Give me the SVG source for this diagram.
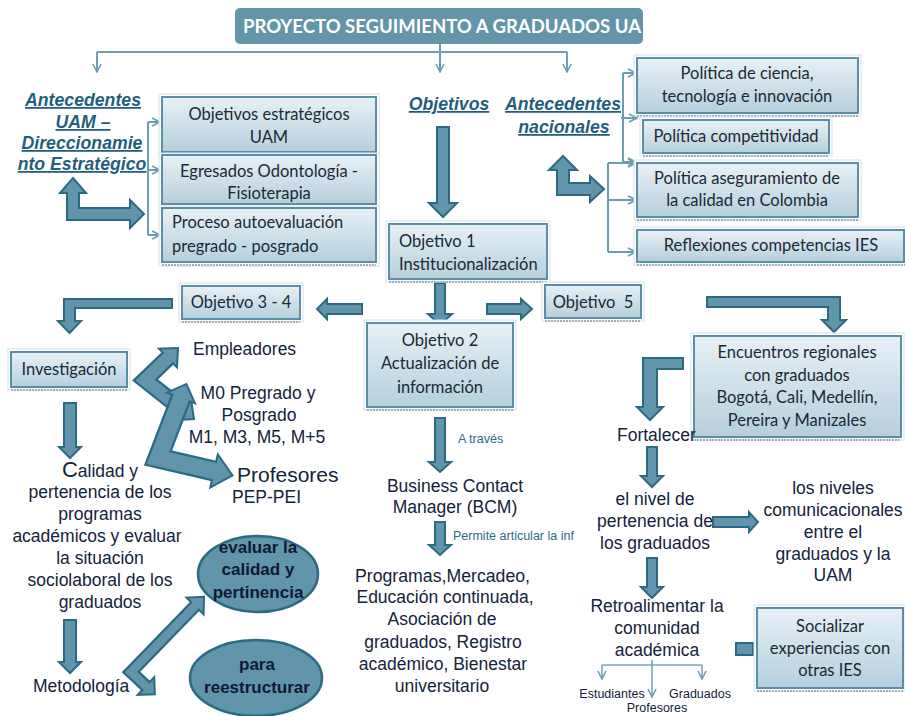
<svg xmlns="http://www.w3.org/2000/svg" width="905" height="716" viewBox="0 0 905 716">
<defs>
<linearGradient id="boxGrad" x1="0" y1="0" x2="0" y2="1">
<stop offset="0" stop-color="#e7f1f6"/>
<stop offset="1" stop-color="#b6cfdc"/>
</linearGradient>
<marker id="chev" viewBox="0 0 10 10" refX="9" refY="5" markerWidth="10" markerHeight="10" markerUnits="userSpaceOnUse" orient="auto">
<path d="M1,1 L9,5 L1,9" fill="none" stroke="#6d9db3" stroke-width="1.6"/>
</marker>
<style>
.box{fill:url(#boxGrad);stroke:#5a8fa7;stroke-width:2}
.frame{fill:#ffffff;stroke:#d5e0e6;stroke-width:1}
.shadow{stroke:#a5b0b6;stroke-width:2;stroke-dasharray:2 1}
.bt{font-family:Lato,"Liberation Sans",sans-serif;font-size:16.5px;fill:#1b2935}
.at{font-family:"Liberation Sans",Arial,sans-serif;font-size:17.5px;fill:#13233a}
.big{font-size:21px}
.hd{font-family:"Liberation Sans",Arial,sans-serif;font-size:17.7px;font-weight:bold;font-style:italic;fill:#1f5f7b;text-decoration:underline}
.sm{font-family:"Liberation Sans",Arial,sans-serif;font-size:12.5px;fill:#2c6a86}
.sk{font-family:"Liberation Sans",Arial,sans-serif;font-size:12.5px;fill:#13233a}
.arrow{fill:#6195ab;stroke:#2d6983;stroke-width:2;stroke-linejoin:miter}
.conn{fill:none;stroke:#6d9db3;stroke-width:2}
.thin{fill:none;stroke:#7aa6b9;stroke-width:1.6}
.ell{fill:#6195ab;stroke:#2d6983;stroke-width:2.5}
.et{font-family:"Liberation Sans",Arial,sans-serif;font-size:17px;font-weight:bold;fill:#0e1a33}
.c{text-anchor:middle}
</style>
</defs>
<rect width="905" height="716" fill="#ffffff"/>

<g id="connectors">
<path class="conn" d="M440,44 V52 M97,52 H567"/>
<path class="conn" d="M97,52 V72" marker-end="url(#chev)"/>
<path class="conn" d="M440,52 V72" marker-end="url(#chev)"/>
<path class="conn" d="M567,52 V72" marker-end="url(#chev)"/>
<path class="conn" d="M148,122 V235"/>
<path class="conn" d="M148,122 H160" marker-end="url(#chev)"/>
<path class="conn" d="M148,170 H160" marker-end="url(#chev)"/>
<path class="conn" d="M148,235 H160" marker-end="url(#chev)"/>
<path class="conn" d="M623,73 V162 M621,118 H623"/>
<path class="conn" d="M623,73 H636" marker-end="url(#chev)"/>
<path class="conn" d="M623,118 H637" marker-end="url(#chev)"/>
<path class="conn" d="M623,162 H636" marker-end="url(#chev)"/>
<path class="conn" d="M608,163 V252"/>
<path class="conn" d="M608,163 H636" marker-end="url(#chev)"/>
<path class="conn" d="M608,200 H636" marker-end="url(#chev)"/>
<path class="conn" d="M608,252 H636" marker-end="url(#chev)"/>
<path class="thin" d="M602,665 H702 M652,660 V665"/>
<path class="thin" d="M602,665 V679" marker-end="url(#chev)"/>
<path class="thin" d="M652,665 V697" marker-end="url(#chev)"/>
<path class="thin" d="M702,665 V679" marker-end="url(#chev)"/>

<polygon class="arrow" points="73,178 86,193 79,193 79,208 130,208 130,200 144,214 130,228 130,220 67,220 67,193 60,193"/>
<polygon class="arrow" points="563,156 577,170 569,170 569,183 590,183 590,176 604,189 590,202 590,195 557,195 557,170 549,170"/>
<polygon class="arrow" points="437,127 449,127 449,203 457,203 443,217 429,203 437,203"/>
<polygon class="arrow" points="435,283 445,283 445,314 452,314 440,325 428,314 435,314"/>
<polygon class="arrow" points="362,304 327,304 327,299 317,309 327,319 327,314 362,314"/>
<polygon class="arrow" points="487,304 521,304 521,299 532,309 521,319 521,314 487,314"/>
<polygon class="arrow" points="172,299 64,299 64,321 58,321 69.5,333 81,321 75,321 75,308 172,308"/>
<polygon class="arrow" points="707,297 840,297 840,320 846,320 834,332 822,320 828,320 828,307 707,307"/>
<polygon class="arrow" points="683,358 643,358 643,407 637,407 650,420 663,407 657,407 657,369 683,369"/>
<polygon class="arrow" points="64,403 76,403 76,447 81,447 70,458 59,447 64,447"/>
<polygon class="arrow" points="64,620 76,620 76,662 81,662 70,673 59,662 64,662"/>
<polygon class="arrow" points="435,418 445,418 445,462 451,462 440,472 429,462 435,462"/>
<polygon class="arrow" points="435,522 445,522 445,545 451,545 440,555 429,545 435,545"/>
<polygon class="arrow" points="647,447 657,447 657,476 663,476 652,487 641,476 647,476"/>
<polygon class="arrow" points="647,558 657,558 657,587 663,587 652,598 641,587 647,587"/>
<polygon class="arrow" points="713,517 749,517 749,512 758,522 749,532 749,527 713,527"/>
<rect class="arrow" x="736" y="643" width="17" height="12"/>

<path d="M168,358 L145,380 L183,410" fill="none" stroke="#2d6983" stroke-width="17" stroke-linejoin="miter"/>
<polygon class="arrow" points="177,367.4 159,348.6 178,348"/>
<polygon class="arrow" points="174.9,420.2 191.1,399.8 194,419"/>
<path d="M169,357 L145,380 L184,411" fill="none" stroke="#6195ab" stroke-width="12.5" stroke-linejoin="miter"/>
<path d="M181,398 L158,458 L214,471" fill="none" stroke="#2d6983" stroke-width="21" stroke-linejoin="miter"/>
<polygon class="arrow" points="195,403.4 167,392.6 186.4,384"/>
<polygon class="arrow" points="210.2,487.6 217.8,454.4 232.5,475.3"/>
<path d="M181.5,396.6 L158,458 L215.5,471.3" fill="none" stroke="#6195ab" stroke-width="16.5" stroke-linejoin="miter"/>
<path d="M195,606 L131,672 L146,686" fill="none" stroke="#2d6983" stroke-width="13" stroke-linejoin="miter"/>
<polygon class="arrow" points="203.6,614.4 186.4,597.6 204,596.7"/>
<polygon class="arrow" points="137.8,694.8 154.2,677.2 154.8,694.2"/>
<path d="M196,605 L131,672 L147,687" fill="none" stroke="#6195ab" stroke-width="8.5" stroke-linejoin="miter"/>
</g>

<g id="title">
<rect x="235" y="8" width="408" height="36" rx="5" fill="#6394aa"/>
<text x="243" y="33" font-family="Lato, 'Liberation Sans', sans-serif" font-weight="bold" font-size="19" fill="#ffffff" textLength="398" lengthAdjust="spacingAndGlyphs">PROYECTO SEGUIMIENTO A GRADUADOS UA</text>
</g>

<g id="antecedentes-uam">
<text class="hd c" x="83" y="106">Antecedentes</text>
<text class="hd c" x="83" y="128">UAM –</text>
<text class="hd c" x="82" y="149">Direccionamie</text>
<text class="hd c" x="82" y="170">nto Estratégico</text>
</g>
<g id="objetivos">
<text class="hd c" x="449" y="110">Objetivos </text>
</g>
<g id="antecedentes-nacionales">
<text class="hd c" x="563" y="110">Antecedentes</text>
<text class="hd c" x="564" y="133">nacionales</text>
</g>

<g id="obj-estrategicos">
<rect class="frame" x="159" y="94" width="220" height="61"/>
<rect class="box" x="162" y="97" width="214" height="55"/>
<text class="bt c" x="269" y="120">Objetivos estratégicos</text>
<text class="bt c" x="269" y="143">UAM</text>
</g>
<g id="egresados">
<rect class="frame" x="159" y="153" width="220" height="54"/>
<rect class="box" x="162" y="155" width="214" height="49"/>
<text class="bt c" x="269" y="177">Egresados Odontología -</text>
<text class="bt c" x="269" y="199">Fisioterapia</text>
</g>
<g id="proceso">
<rect class="frame" x="159" y="206" width="220" height="60"/>
<line class="shadow" x1="162" y1="265" x2="376" y2="265"/>
<rect class="box" x="162" y="208" width="214" height="54"/>
<text class="bt" x="172" y="228">Proceso autoevaluación</text>
<text class="bt" x="172" y="252">pregrado - posgrado</text>
</g>

<g id="objetivo1">
<rect class="frame" x="386" y="221" width="164" height="61"/>
<line class="shadow" x1="389" y1="282" x2="547" y2="282"/>
<rect class="box" x="389" y="224" width="158" height="55"/>
<text class="bt" x="399" y="247">Objetivo 1</text>
<text class="bt" x="399" y="270">Institucionalización</text>
</g>

<g id="pol-ciencia">
<rect class="frame" x="634" y="55" width="227" height="61"/>
<line class="shadow" x1="637" y1="116" x2="858" y2="116"/>
<rect class="box" x="637" y="58" width="221" height="55"/>
<text class="bt c" x="747" y="79">Política de ciencia,</text>
<text class="bt c" x="747" y="102">tecnología e innovación</text>
</g>
<g id="pol-competitividad">
<rect class="frame" x="640" y="117" width="192" height="39"/>
<line class="shadow" x1="643" y1="156" x2="829" y2="156"/>
<rect class="box" x="643" y="120" width="186" height="33"/>
<text class="bt c" x="736" y="142">Política competitividad</text>
</g>
<g id="pol-aseguramiento">
<rect class="frame" x="634" y="160" width="227" height="60"/>
<line class="shadow" x1="637" y1="220" x2="858" y2="220"/>
<rect class="box" x="637" y="163" width="221" height="54"/>
<text class="bt c" x="747" y="184">Política aseguramiento de</text>
<text class="bt c" x="747" y="206">la calidad en Colombia</text>
</g>
<g id="reflexiones">
<rect class="frame" x="634" y="227" width="274" height="38"/>
<line class="shadow" x1="637" y1="265" x2="905" y2="265"/>
<rect class="box" x="637" y="230" width="267" height="32"/>
<text class="bt c" x="771" y="251">Reflexiones competencias IES</text>
</g>

<g id="objetivo34">
<rect class="frame" x="179" y="283" width="124" height="39"/>
<line class="shadow" x1="182" y1="322" x2="300" y2="322"/>
<rect class="box" x="182" y="286" width="118" height="33"/>
<text class="bt c" x="241" y="308">Objetivo 3 - 4</text>
</g>
<g id="objetivo5">
<rect class="frame" x="542" y="282" width="102" height="39"/>
<line class="shadow" x1="545" y1="321" x2="641" y2="321"/>
<rect class="box" x="545" y="285" width="96" height="33"/>
<text class="bt c" x="593" y="308" xml:space="preserve">Objetivo  5</text>
</g>
<g id="objetivo2">
<rect class="frame" x="364" y="320" width="152" height="90"/>
<line class="shadow" x1="367" y1="410" x2="513" y2="410"/>
<rect class="box" x="367" y="323" width="146" height="84"/>
<text class="bt c" x="440" y="346">Objetivo 2</text>
<text class="bt c" x="440" y="369">Actualización de</text>
<text class="bt c" x="440" y="393">información</text>
</g>
<g id="investigacion">
<rect class="frame" x="8" y="349" width="122" height="41"/>
<line class="shadow" x1="11" y1="390" x2="127" y2="390"/>
<rect class="box" x="11" y="352" width="116" height="35"/>
<text class="bt c" x="69" y="375">Investigación</text>
</g>
<g id="encuentros">
<rect class="frame" x="691" y="333" width="213" height="107"/>
<line class="shadow" x1="694" y1="440" x2="901" y2="440"/>
<rect class="box" x="694" y="336" width="207" height="101"/>
<text class="bt c" x="797" y="358">Encuentros regionales</text>
<text class="bt c" x="797" y="381">con graduados</text>
<text class="bt c" x="797" y="403">Bogotá, Cali, Medellín,</text>
<text class="bt c" x="797" y="426">Pereira y Manizales</text>
</g>
<g id="socializar">
<rect class="frame" x="754" y="605" width="151" height="86"/>
<line class="shadow" x1="757" y1="691" x2="903" y2="691"/>
<rect class="box" x="757" y="608" width="146" height="80"/>
<text class="bt c" x="830" y="632">Socializar</text>
<text class="bt c" x="830" y="654">experiencias con</text>
<text class="bt c" x="830" y="676">otras IES</text>
</g>

<g id="empleadores">
<text class="at" x="193" y="355">Empleadores</text>
</g>
<g id="m0">
<text class="at c" x="258" y="399">M0 Pregrado y</text>
<text class="at c" x="259" y="421">Posgrado</text>
<text class="at c" x="257" y="443">M1, M3, M5, M+5</text>
</g>
<g id="profesores">
<text class="at big" x="237" y="482">Profesores</text>
<text class="at" x="232" y="503">PEP-PEI</text>
</g>
<g id="calidad">
<text class="at c" x="100" y="477"><tspan style="font-size:22px">C</tspan>alidad y</text>
<text class="at c" x="100" y="498">pertenencia de los</text>
<text class="at c" x="100" y="520">programas</text>
<text class="at c" x="97" y="542">académicos y evaluar</text>
<text class="at c" x="100" y="564">la situación</text>
<text class="at c" x="100" y="586">sociolaboral de los</text>
<text class="at c" x="100" y="608">graduados</text>
</g>
<g id="metodologia">
<text class="at" x="33" y="692">Metodología</text>
</g>
<g id="evaluar">
<ellipse class="ell" cx="258" cy="574" rx="60" ry="38"/>
<text class="et c" x="258" y="553">evaluar la</text>
<text class="et c" x="258" y="575">calidad y</text>
<text class="et c" x="258" y="598">pertinencia</text>
</g>
<g id="reestructurar">
<ellipse class="ell" cx="256" cy="678" rx="66" ry="38"/>
<text class="et c" x="257" y="670">para</text>
<text class="et c" x="257" y="693">reestructurar</text>
</g>

<g id="a-traves">
<text class="sm" x="458" y="443">A través</text>
</g>
<g id="bcm">
<text class="at c" x="455" y="492">Business Contact</text>
<text class="at c" x="455" y="513">Manager (BCM)</text>
</g>
<g id="permite">
<text class="sm" x="453" y="540">Permite articular la inf</text>
</g>
<g id="programas">
<text class="at" x="355" y="582" textLength="175" lengthAdjust="spacingAndGlyphs">Programas,Mercadeo,</text>
<text class="at c" x="445" y="603">Educación continuada,</text>
<text class="at c" x="442" y="625">Asociación de</text>
<text class="at c" x="443" y="648">graduados, Registro</text>
<text class="at c" x="443" y="670">académico, Bienestar</text>
<text class="at c" x="442" y="692">universitario</text>
</g>

<g id="fortalecer">
<text class="at" x="617" y="441">Fortalecer</text>
</g>
<g id="nivel">
<text class="at c" x="655" y="505">el nivel de</text>
<text class="at c" x="655" y="527">pertenencia de</text>
<text class="at c" x="655" y="549">los graduados</text>
</g>
<g id="niveles">
<text class="at c" x="833" y="494">los niveles</text>
<text class="at c" x="833" y="516">comunicacionales</text>
<text class="at c" x="833" y="538">entre el</text>
<text class="at c" x="833" y="560">graduados y la</text>
<text class="at c" x="833" y="581">UAM</text>
</g>
<g id="retroalimentar">
<text class="at c" x="657" y="612">Retroalimentar la</text>
<text class="at c" x="657" y="634">comunidad</text>
<text class="at c" x="657" y="656">académica</text>
</g>
<g id="estudiantes"><text class="sk c" x="612" y="698">Estudiantes</text></g>
<g id="graduados"><text class="sk c" x="700" y="698">Graduados</text></g>
<g id="profesores-2"><text class="sk c" x="657" y="712">Profesores</text></g>
</svg>
